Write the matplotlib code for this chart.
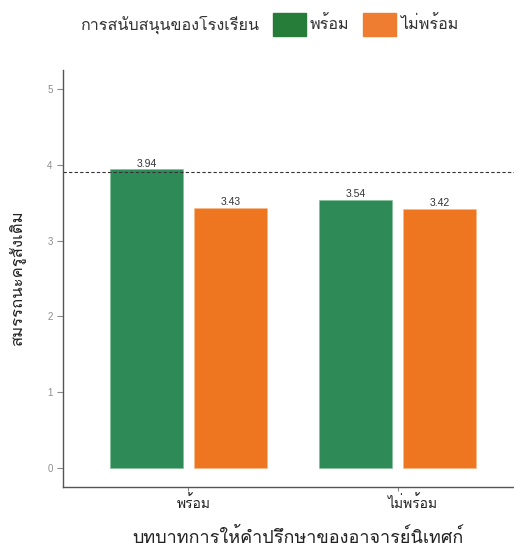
import matplotlib
matplotlib.use("Agg")
import numpy as np
import matplotlib.pyplot as plt
from matplotlib.patches import Rectangle
from matplotlib.transforms import ScaledTranslation

# data
categories = ["พร้อม", "ไม่พร้อม"]
groups = ["พร้อม", "ไม่พร้อม"]
ready_vals = [3.94, 3.54]
not_ready_vals = [3.43, 3.42]
ref_line = 3.9

THAI = ["Loma", "DejaVu Sans"]
NUM = ["Liberation Sans", "DejaVu Sans"]
bar_colors = ["#2E8B57", "#EE7621"]
legend_colors = ["#267D3A", "#EE7D31"]

W, H = 514, 546
fig = plt.figure(figsize=(W / 100, H / 100), dpi=100)
# ggplot-style panel, right edge runs past the image
ax = fig.add_axes([63 / W, 1 - 487 / H, (523 - 63) / W, (487 - 70) / H])

x = np.arange(1, len(categories) + 1)
width = 0.35
offset = 0.2
b1 = ax.bar(x - offset, ready_vals, width, color=bar_colors[0], edgecolor="#7FBF95", linewidth=0.4)
b2 = ax.bar(x + offset, not_ready_vals, width, color=bar_colors[1], edgecolor="#F5B98A", linewidth=0.4)

for bars, vals in [(b1, ready_vals), (b2, not_ready_vals)]:
    for rect, v in zip(bars, vals):
        ax.text(rect.get_x() + rect.get_width() / 2, v + 0.01, f"{v:.2f}",
                ha="center", va="bottom", fontsize=7.5, color="#333333", family=NUM)

ax.axhline(ref_line, color="#333333", linestyle=(0, (3, 2)), linewidth=0.8)

ax.set_xlim(0.4, 2.6)
ax.set_ylim(-0.25, 5.25)
ax.set_yticks(range(0, 6))
ax.set_xticks(x)
ax.set_xticklabels([])
# category labels drawn under the ticks (slightly right of centre, as in the original)
for xi, cat, dx in zip(x, categories, [5, 15]):
    tr = ax.get_xaxis_transform() + ScaledTranslation(dx / 100, -8 / 100, fig.dpi_scale_trans)
    ax.text(xi, 0, cat, transform=tr, family=THAI, fontsize=10, color="#222222",
            ha="center", va="top")
for lab in ax.get_yticklabels():
    lab.set_family(NUM)
ax.tick_params(axis="y", labelsize=7, labelcolor="#8C8C8C", color="#8C8C8C", length=4, width=0.8)
ax.tick_params(axis="x", color="#8C8C8C", length=3, width=0.8)

for side in ["top", "right"]:
    ax.spines[side].set_visible(False)
for side in ["left", "bottom"]:
    ax.spines[side].set_color("#555555")
    ax.spines[side].set_linewidth(1.0)

ax.set_xlabel("บทบาทการให้คำปรึกษาของอาจารย์นิเทศก์", family=THAI, fontsize=13, color="#222222")
ax.xaxis.label.set_va("center")
ax.xaxis.set_label_coords((298 - 63) / (523 - 63), -(537 - 487) / (487 - 70))
ax.set_ylabel("สมรรถนะครูสังเติม", family=THAI, fontsize=12, color="#222222", labelpad=15)

# legend along the top
fig.text(80 / W, 1 - 25 / H, "การสนับสนุนของโรงเรียน", family=THAI, fontsize=11.6,
         color="#333333", ha="left", va="center")
label_x = [310, 400]
box_x = [273, 363]
for bx, lx, c, g in zip(box_x, label_x, legend_colors, groups):
    fig.patches.append(Rectangle((bx / W, 1 - 36 / H), 33 / W, 23 / H,
                                 transform=fig.transFigure, color=c))
    fig.text(lx / W, 1 - 25 / H, g, family=THAI, fontsize=11.6, color="#333333",
             ha="left", va="center")

fig.savefig("out.png", dpi=100)
